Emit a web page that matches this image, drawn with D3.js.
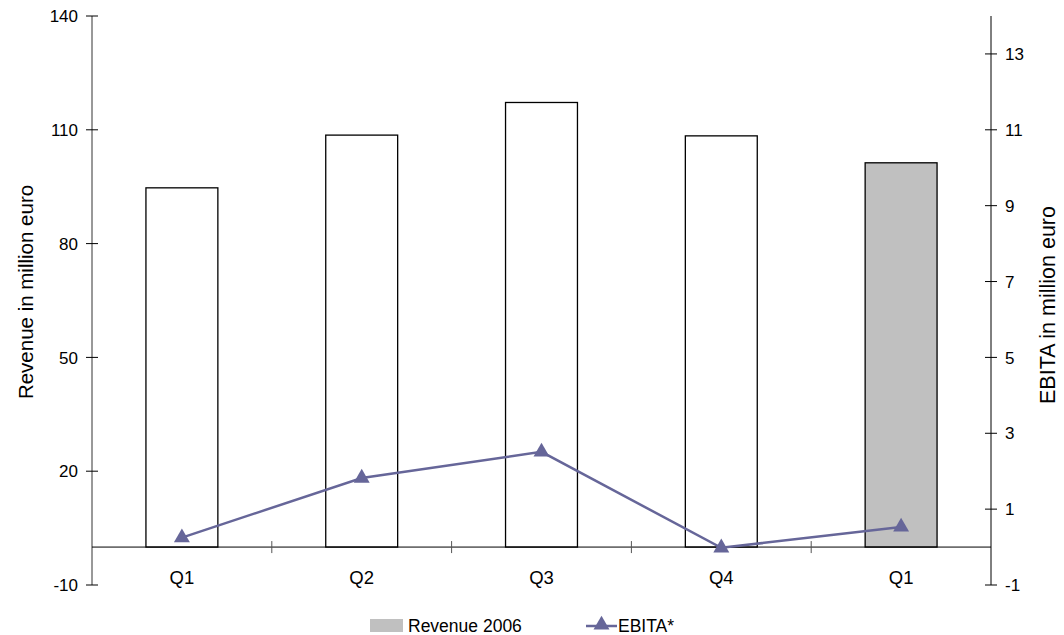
<!DOCTYPE html>
<html>
<head>
<meta charset="utf-8">
<script src="https://cdn.jsdelivr.net/npm/d3@7"></script>
<style>
  html, body { margin: 0; padding: 0; background: #fff; }
  svg { display: block; font-family: "Liberation Sans", Arial, sans-serif; }
</style>
</head>
<body>
<svg id="chart" width="1064" height="635"></svg>
<script>
// Quarterly revenue (left axis) and EBITA (right axis)
const categories = ["Q1", "Q2", "Q3", "Q4", "Q1"];
const revenue = [94.7, 108.6, 117.2, 108.4, 101.3];
const revenueFill = ["#ffffff", "#ffffff", "#ffffff", "#ffffff", "#c0c0c0"];
const ebita = [0.25, 1.82, 2.51, -0.02, 0.53];
const leftTicks = [-10, 20, 50, 80, 110, 140];
const rightTicks = [-1, 1, 3, 5, 7, 9, 11, 13];
const legendLabels = ["Revenue 2006", "EBITA*"];

const svg = d3.select("#chart");
const plot = { left: 92, right: 991, top: 16, bottom: 585 };
const lineColor = "#666699";
const tickFont = 17;

const x = d3.scaleBand().domain(d3.range(categories.length)).range([plot.left, plot.right]).paddingInner(0).paddingOuter(0);
const yL = d3.scaleLinear().domain([-10, 140]).range([plot.bottom, plot.top]);
const yR = d3.scaleLinear().domain([-1, 14]).range([plot.bottom, plot.top]);

// Bars
const barW = x.bandwidth() * 0.4;
svg.append("g").selectAll("rect").data(revenue).join("rect")
  .attr("x", (d, i) => x(i) + (x.bandwidth() - barW) / 2)
  .attr("y", d => yL(d))
  .attr("width", barW)
  .attr("height", d => yL(0) - yL(d))
  .attr("fill", (d, i) => revenueFill[i])
  .attr("stroke", "#000")
  .attr("stroke-width", 1.3);

// Left axis
const gL = svg.append("g").attr("transform", `translate(${plot.left},0)`);
gL.append("line").attr("y1", plot.top).attr("y2", plot.bottom).attr("stroke", "#333").attr("stroke-width", 1);
gL.selectAll("line.t").data(leftTicks).join("line").attr("class", "t")
  .attr("x1", -6).attr("x2", 6).attr("y1", d => yL(d)).attr("y2", d => yL(d))
  .attr("stroke", "#000");
gL.selectAll("text").data(leftTicks).join("text")
  .attr("x", -14).attr("y", d => yL(d)).attr("dy", "0.36em")
  .attr("text-anchor", "end").attr("font-size", tickFont).attr("fill", "#000")
  .text(d => d);

// Right axis
const gR = svg.append("g").attr("transform", `translate(${plot.right},0)`);
gR.append("line").attr("y1", plot.top).attr("y2", plot.bottom).attr("stroke", "#000").attr("stroke-width", 1);
gR.selectAll("line.t").data(rightTicks).join("line").attr("class", "t")
  .attr("x1", -6).attr("x2", 6).attr("y1", d => yR(d)).attr("y2", d => yR(d))
  .attr("stroke", "#000");
gR.selectAll("text").data(rightTicks).join("text")
  .attr("x", 14).attr("y", d => yR(d)).attr("dy", "0.36em")
  .attr("text-anchor", "start").attr("font-size", tickFont).attr("fill", "#000")
  .text(d => d);

// Category axis at zero
const y0 = yL(0);
svg.append("line").attr("x1", plot.left).attr("x2", plot.right).attr("y1", y0).attr("y2", y0).attr("stroke", "#000");
svg.append("g").selectAll("line").data(d3.range(1, categories.length)).join("line")
  .attr("x1", i => x(i)).attr("x2", i => x(i)).attr("y1", y0 - 6).attr("y2", y0 + 6)
  .attr("stroke", "#555");
svg.append("g").selectAll("text").data(categories).join("text")
  .attr("x", (d, i) => x(i) + x.bandwidth() / 2).attr("y", 584)
  .attr("text-anchor", "middle").attr("font-size", 18.5).attr("fill", "#000")
  .text(d => d);

// EBITA line with triangle markers
const cx = i => x(i) + x.bandwidth() / 2;
const line = d3.line().x((d, i) => cx(i)).y(d => yR(d));
svg.append("path").datum(ebita).attr("d", line)
  .attr("fill", "none").attr("stroke", lineColor).attr("stroke-width", 2.5);
const tri = d3.symbol().type(d3.symbolTriangle).size(110);
svg.append("g").selectAll("path").data(ebita).join("path")
  .attr("d", tri)
  .attr("transform", (d, i) => `translate(${cx(i)},${yR(d)})`)
  .attr("fill", lineColor);

// Axis titles
svg.append("text").attr("transform", "translate(33,292) rotate(-90)")
  .attr("text-anchor", "middle").attr("font-size", 20.5).attr("fill", "#000")
  .text("Revenue in million euro");
svg.append("text").attr("transform", "translate(1055,305) rotate(-90)")
  .attr("text-anchor", "middle").attr("font-size", 21.5).attr("fill", "#000")
  .text("EBITA in million euro");

// Legend
const legendFont = 17.5;
const lg = svg.append("g");
lg.append("rect").attr("x", 370).attr("y", 619).attr("width", 33).attr("height", 13).attr("fill", "#c0c0c0");
lg.append("text").attr("x", 408).attr("y", 632).attr("font-size", legendFont).attr("fill", "#000").text(legendLabels[0]);
lg.append("line").attr("x1", 586).attr("x2", 617).attr("y1", 626).attr("y2", 626).attr("stroke", lineColor).attr("stroke-width", 2.5);
lg.append("path").attr("d", tri).attr("transform", "translate(601.5,625)").attr("fill", lineColor);
lg.append("text").attr("x", 618).attr("y", 632).attr("font-size", legendFont).attr("fill", "#000").text(legendLabels[1]);
</script>
</body>
</html>
